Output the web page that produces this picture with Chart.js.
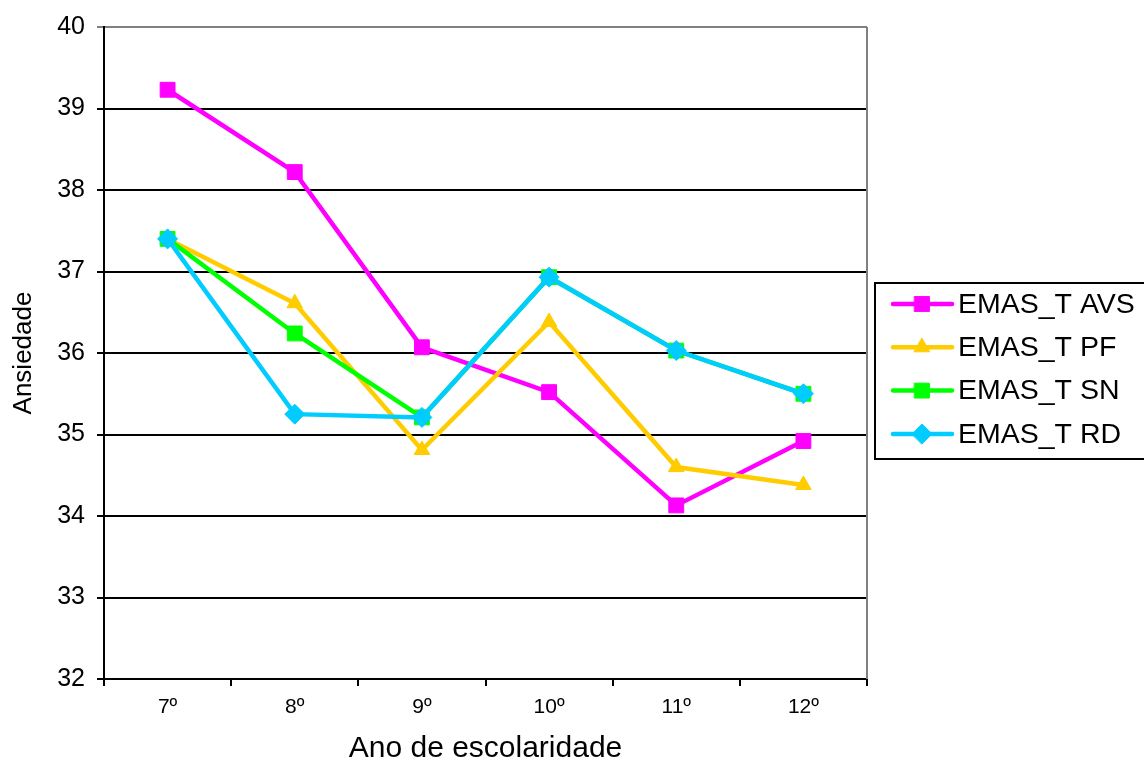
<!DOCTYPE html>
<html>
<head>
<meta charset="utf-8">
<script src="https://cdn.jsdelivr.net/npm/chart.js@4/dist/chart.umd.min.js"></script>
<style>
  html, body { margin: 0; padding: 0; background: #fff; }
  #wrap { width: 1144px; height: 762px; }
</style>
</head>
<body>
<div id="wrap"><canvas id="chart" width="1144" height="762"></canvas></div>
<script>
// dados
const anos = ["7º", "8º", "9º", "10º", "11º", "12º"];
const avs = [39.23, 38.22, 36.07, 35.52, 34.13, 34.92];
const pf  = [37.40, 36.61, 34.81, 36.38, 34.60, 34.38];
const sn  = [37.40, 36.24, 35.21, 36.93, 36.03, 35.50];
const rd  = [37.40, 35.25, 35.21, 36.93, 36.03, 35.50];
const nomes = ["EMAS_T AVS", "EMAS_T PF", "EMAS_T SN", "EMAS_T RD"];

const FONT = "'Liberation Sans', Arial, sans-serif";

function serie(label, data, cor, estilo, raio, ordem) {
    return {
        label, data, order: ordem,
        borderColor: cor, backgroundColor: cor,
        borderWidth: 4.5,
        pointStyle: estilo, pointRadius: raio, pointHoverRadius: raio,
        pointBorderColor: cor, pointBackgroundColor: cor, pointBorderWidth: 1,
        tension: 0, fill: false
    };
}

// legenda desenhada à mão (linha + marcador), com moldura
const legendaPlugin = {
    id: "legenda",
    afterDraw(chart) {
        const ctx = chart.ctx;
        ctx.save();
        ctx.strokeStyle = "#000";
        ctx.lineWidth = 2;
        ctx.strokeRect(875, 283, 300, 176);
        ctx.font = "28.5px " + FONT;
        ctx.textBaseline = "middle";
        chart.data.datasets.forEach((ds, i) => {
            const y = 304 + i * 43.3;
            ctx.strokeStyle = ds.borderColor;
            ctx.lineWidth = 4.5;
            ctx.lineCap = "round";
            ctx.beginPath();
            ctx.moveTo(893, y);
            ctx.lineTo(952, y);
            ctx.stroke();
            ctx.fillStyle = ds.borderColor;
            ctx.lineWidth = 1;
            Chart.helpers.drawPoint(ctx, { pointStyle: ds.pointStyle, radius: ds.pointRadius, rotation: 0, borderWidth: 1 }, 922, y);
            ctx.fillStyle = "#000";
            ctx.fillText(ds.label, 958, y + 1);
        });
        ctx.restore();
    }
};

// borda direita cinzenta da área do gráfico
const bordaPlugin = {
    id: "borda",
    beforeDatasetsDraw(chart) {
        const a = chart.chartArea, ctx = chart.ctx;
        ctx.save();
        ctx.strokeStyle = "#808080";
        ctx.lineWidth = 2;
        ctx.beginPath();
        ctx.moveTo(a.right, a.top);
        ctx.lineTo(a.right, a.bottom);
        ctx.stroke();
        ctx.restore();
    }
};

new Chart(document.getElementById("chart"), {
    type: "line",
    data: {
        labels: anos,
        datasets: [
            serie(nomes[0], avs, "#FF00FF", "rect", 10.5, 4),
            serie(nomes[1], pf, "#FFCC00", "triangle", 9, 3),
            serie(nomes[2], sn, "#00FF00", "rect", 10.5, 2),
            serie(nomes[3], rd, "#00CCFF", "rectRot", 10, 1)
        ]
    },
    options: {
        responsive: false,
        animation: false,
        layout: { padding: { top: 27, right: 277, left: 0, bottom: 0 } },
        plugins: { legend: { display: false }, tooltip: { enabled: false } },
        scales: {
            x: {
                offset: true,
                grid: { offset: true, drawOnChartArea: false, color: "#000", lineWidth: 2, tickLength: 7 },
                border: { color: "#000", width: 2 },
                ticks: { color: "#000", font: { family: FONT, size: 21 }, padding: 9, maxRotation: 0 },
                title: { display: true, text: "Ano de escolaridade", color: "#000", font: { family: FONT, size: 30, lineHeight: 0.9 }, padding: { top: 0, bottom: 0 } },
                afterFit(s) { s.height = 83; }
            },
            y: {
                min: 32, max: 40,
                ticks: { stepSize: 1, color: "#000", font: { family: FONT, size: 25 }, padding: 12 },
                grid: {
                    color: c => c.tick && c.tick.value === 40 ? "#808080" : "#000",
                    lineWidth: 2, tickLength: 7
                },
                border: { color: "#000", width: 2 },
                title: { display: true, text: "Ansiedade", color: "#000", font: { family: FONT, size: 26 }, padding: { top: 8, bottom: 0 } },
                afterFit(s) { s.width = 104; }
            }
        }
    },
    plugins: [bordaPlugin, legendaPlugin]
});
</script>
</body>
</html>
